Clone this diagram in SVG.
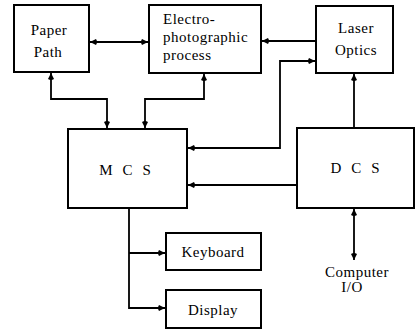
<svg xmlns="http://www.w3.org/2000/svg" width="419" height="332" viewBox="0 0 419 332">
<style>
.box{fill:#fff;stroke:#000;stroke-width:2}
.t{font-family:"Liberation Serif","DejaVu Serif",serif;font-size:15px;letter-spacing:0.5px;fill:#000}
.w{letter-spacing:10px}
.c{fill:none;stroke:#000;stroke-width:1.8}
</style>
<defs>
<marker id="a" markerWidth="9" markerHeight="7" refX="8" refY="3.5" orient="auto-start-reverse" markerUnits="userSpaceOnUse">
<path d="M8,3.5 L2,0.5 Q0,3.5 2,6.5 Z" fill="#000"/>
</marker>
</defs>
<rect width="419" height="332" fill="#fff"/>
<g id="connectors">
<path class="c" d="M90,42 H148" marker-start="url(#a)" marker-end="url(#a)"/>
<path class="c" d="M51,73 V99 H107 V128" marker-start="url(#a)" marker-end="url(#a)"/>
<path class="c" d="M204,74 V99 H145 V128" marker-start="url(#a)" marker-end="url(#a)"/>
<path class="c" d="M316,41 H262" marker-end="url(#a)"/>
<path class="c" d="M188,148 H280 V61 H315" marker-start="url(#a)" marker-end="url(#a)"/>
<path class="c" d="M354,128 V74" marker-end="url(#a)"/>
<path class="c" d="M297,185 H188" marker-end="url(#a)"/>
<path class="c" d="M129,209 V308 H165" marker-end="url(#a)"/>
<path class="c" d="M129,253 H165" marker-end="url(#a)"/>
<path class="c" d="M354,209 V260" marker-start="url(#a)" marker-end="url(#a)"/>
</g>
<g id="paper-path">
<rect class="box" x="14" y="5" width="75" height="67"/>
<text class="t" x="49" y="35" text-anchor="middle">Paper</text>
<text class="t" x="48" y="57" text-anchor="middle">Path</text>
</g>
<g id="electro">
<rect class="box" x="149" y="5" width="112" height="68"/>
<text class="t" x="163" y="24">Electro-</text>
<text class="t" x="163" y="42">photographic</text>
<text class="t" x="163" y="60">process</text>
</g>
<g id="laser-optics">
<rect class="box" x="316" y="6" width="77" height="67"/>
<text class="t" x="356" y="33" text-anchor="middle">Laser</text>
<text class="t" x="356" y="55" text-anchor="middle">Optics</text>
</g>
<g id="mcs">
<rect class="box" x="68" y="129" width="119" height="79"/>
<text class="t w" x="130" y="175" text-anchor="middle">MCS</text>
</g>
<g id="dcs">
<rect class="box" x="297" y="128" width="117" height="80"/>
<text class="t w" x="360" y="173" text-anchor="middle">DCS</text>
</g>
<g id="keyboard">
<rect class="box" x="166" y="233" width="95" height="37"/>
<text class="t" x="213" y="257" text-anchor="middle">Keyboard</text>
</g>
<g id="display">
<rect class="box" x="166" y="290" width="95" height="38"/>
<text class="t" x="213" y="315" text-anchor="middle">Display</text>
</g>
<g id="computer-io">
<text class="t" x="357" y="277" text-anchor="middle">Computer</text>
<text class="t" x="352" y="292" text-anchor="middle">I/O</text>
</g>
</svg>
